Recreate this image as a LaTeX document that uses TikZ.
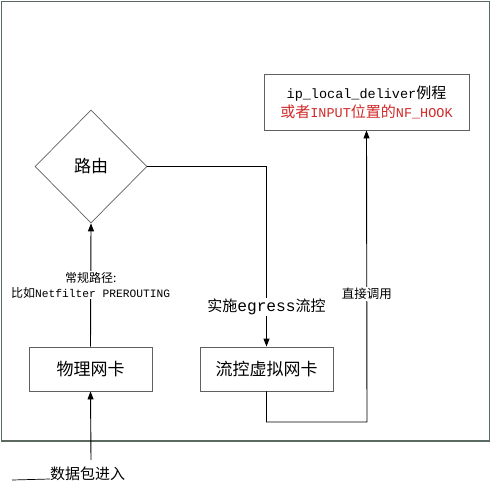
\documentclass[tikz,border=0pt]{standalone}
\usepackage{fontspec}
\setmainfont{Noto Sans CJK SC}
\newfontfamily\mono{Liberation Mono}[Scale=0.9]
\usetikzlibrary{shapes.geometric,arrows.meta}
\definecolor{framecol}{HTML}{5A6A60}
\definecolor{boxcol}{HTML}{606060}
\definecolor{redtxt}{HTML}{D02828}
\begin{document}
\begin{tikzpicture}[x=1pt,y=-1pt,
  box/.style={draw=boxcol,line width=0.9pt,minimum width=123pt,minimum height=44pt,inner sep=0pt,font=\fontsize{17}{20}\selectfont},
  arr/.style={line width=0.9pt,-{Triangle[length=8pt,width=6pt]}},
  lbl/.style={fill=white,inner sep=1pt,align=center},
  every node/.style={text=black}]
\useasboundingbox (0,0) rectangle (492,484);
\draw[framecol,line width=1.4pt] (1.5,1.5) rectangle (489.5,441);
\node[diamond,draw=boxcol,line width=0.7pt,minimum width=112pt,minimum height=113pt,inner sep=0pt,aspect=1,font=\fontsize{17}{20}\selectfont] (route) at (91,166.5) {路由};
\node[box] (phy) at (90.5,369) {物理网卡};
\node[box,minimum width=133pt] (vnic) at (266.5,369) {流控虚拟网卡};
\node[draw=boxcol,line width=0.9pt,minimum width=205pt,minimum height=56pt,inner sep=0pt,align=center,font=\fontsize{15}{18}\selectfont] (ipl) at (366.5,102)
  {{\mono ip\_local\_deliver}例程\\[1pt]\textcolor{redtxt}{或者{\mono INPUT}位置的{\mono NF\_HOOK}}};
\coordinate (in) at (91,460);
\coordinate (ul) at (12,480);
\node[anchor=base west,inner sep=0pt,font=\fontsize{15}{18}\selectfont] (pkt) at (50,479) {数据包进入};
\draw[line width=0.7pt] (ul) -- (pkt.base west);
\draw[arr] (in) -- (phy.south);
\draw[arr] (phy.north) -- node[lbl,pos=0.5,font=\fontsize{12}{15}\selectfont]{常规路径:\\比如{\mono\fontsize{12.5}{15}\selectfont Netfilter PREROUTING}} (route.south);
\draw[arr] (route.east) -| node[lbl,pos=0.89,font=\fontsize{15}{18}\selectfont]{实施{\mono\fontsize{18}{18}\selectfont egress}流控} (vnic.north);
\draw[arr] (vnic.south) |- (367,422) -- node[lbl,pos=0.44,font=\fontsize{12.5}{15}\selectfont]{直接调用} (ipl.south);
\end{tikzpicture}
\end{document}
